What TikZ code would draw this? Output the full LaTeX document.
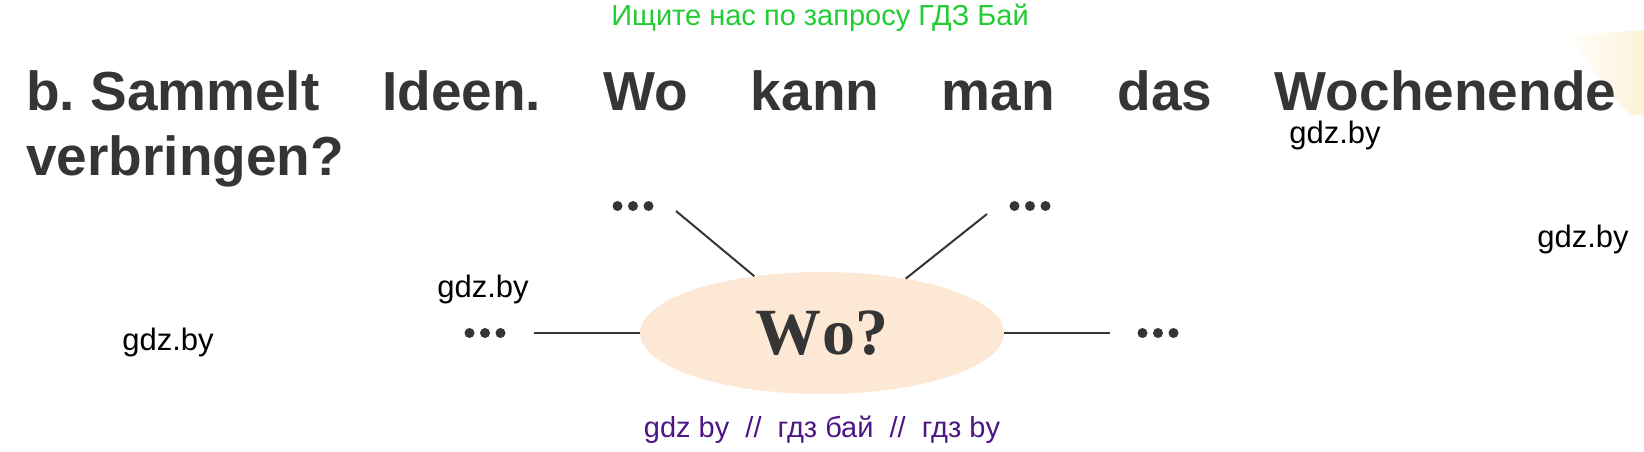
\documentclass[tikz,border=0pt]{standalone}
\usepackage{fontspec}
\setmainfont{Liberation Sans}
\newfontfamily\headfont{Liberation Sans}
\newfontfamily\serifbold{Liberation Serif}
\usetikzlibrary{shapes.geometric}
\definecolor{textgray}{HTML}{353535}
\definecolor{wmgreen}{HTML}{22CC33}
\definecolor{wmpurple}{HTML}{4E1585}
\definecolor{ellfill}{HTML}{FDE8D5}
\definecolor{glow}{HTML}{FDF2D6}
\newcommand{\threedots}{\tikz[baseline=-4pt]{\foreach \i in {0,1,2} \fill[textgray] (\i*15.5pt,0pt) circle (5pt);}}
\tikzset{
  wm/.style={inner sep=0pt, anchor=base, font=\fontsize{31}{34}\selectfont, text=black},
  dotsnode/.style={inner sep=0pt},
  conn/.style={draw=textgray, line width=2pt},
  head/.style={inner sep=0pt, anchor=base west, text=textgray, font=\headfont\bfseries\fontsize{55}{60}\selectfont},
}
\begin{document}
\begin{tikzpicture}[x=1pt,y=-1pt]
\useasboundingbox (0,0) rectangle (1644,451);
% faint glow top right
\shade[left color=white, right color=glow, draw=none] (1565,36) -- (1644,30) -- (1644,115) -- (1630,115) -- cycle;
% watermark top
\node[inner sep=0pt, anchor=base, text=wmgreen, font=\fontsize{29}{32}\selectfont] (top) at (820,25) {Ищите нас по запросу ГДЗ Бай};
% headline
\node[head] (l1) at (26,110) {\makebox[1590pt][s]{b.~Sammelt\hfill Ideen.\hfill Wo\hfill kann\hfill man\hfill das\hfill Wochenende}};
\node[head] (l2) at (26,175) {verbringen?};
% watermarks
\node[wm] (w1) at (1335,143) {gdz.by};
\node[wm] (w2) at (1583,247) {gdz.by};
\node[wm] (w3) at (483,297) {gdz.by};
\node[wm] (w4) at (168,350) {gdz.by};
% ellipse
\node[ellipse, fill=ellfill, minimum width=364pt, minimum height=122pt, inner sep=0pt,
      font=\serifbold\bfseries\fontsize{66}{70}\selectfont, text=textgray] (wo) at (822,333) {W\kern2pt o?};
% dots
\node[dotsnode] (dUL) at (633,206) {\threedots};
\node[dotsnode] (dUR) at (1030,206) {\threedots};
\node[dotsnode] (dL) at (485,333) {\threedots};
\node[dotsnode] (dR) at (1158,333) {\threedots};
% connector ends
\coordinate (cUL) at (676,211);
\coordinate (cUR) at (987,214);
\coordinate (cL) at (534,333);
\coordinate (cR) at (1110,333);
\draw[conn] (cUL) -- (wo.140);
\draw[conn] (cUR) -- (wo.33);
\draw[conn] (cL) -- (wo.west);
\draw[conn] (wo.east) -- (cR);
% bottom watermark
\node[inner sep=0pt, anchor=base, text=wmpurple, font=\fontsize{29}{32}\selectfont] (bot) at (822,437) {gdz by\ \ //\ \ гдз бай\ \ //\ \ гдз by};
\end{tikzpicture}
\end{document}
